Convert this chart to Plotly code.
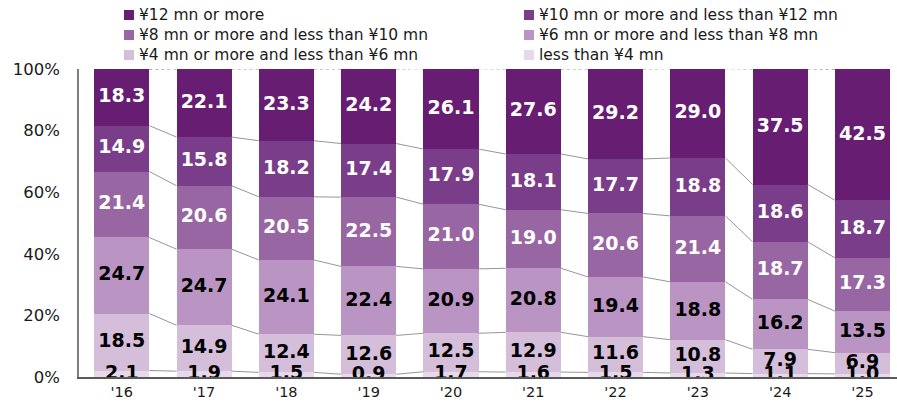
import plotly.graph_objects as go

years = ["'16", "'17", "'18", "'19", "'20", "'21", "'22", "'23", "'24", "'25"]

# Income bands, bottom of the stack first
band_names = [
    "less than ¥4 mn",
    "¥4 mn or more and less than ¥6 mn",
    "¥6 mn or more and less than ¥8 mn",
    "¥8 mn or more and less than ¥10 mn",
    "¥10 mn or more and less than ¥12 mn",
    "¥12 mn or more",
]
under_4 = [2.1, 1.9, 1.5, 0.9, 1.7, 1.6, 1.5, 1.3, 1.1, 1.0]
from_4_to_6 = [18.5, 14.9, 12.4, 12.6, 12.5, 12.9, 11.6, 10.8, 7.9, 6.9]
from_6_to_8 = [24.7, 24.7, 24.1, 22.4, 20.9, 20.8, 19.4, 18.8, 16.2, 13.5]
from_8_to_10 = [21.4, 20.6, 20.5, 22.5, 21.0, 19.0, 20.6, 21.4, 18.7, 17.3]
from_10_to_12 = [14.9, 15.8, 18.2, 17.4, 17.9, 18.1, 17.7, 18.8, 18.6, 18.7]
over_12 = [18.3, 22.1, 23.3, 24.2, 26.1, 27.6, 29.2, 29.0, 37.5, 42.5]

series = [under_4, from_4_to_6, from_6_to_8, from_8_to_10, from_10_to_12, over_12]
colors = ["#E6DAEA", "#D4BEDA", "#BA95C3", "#9866A3", "#7A3D8A", "#661D72"]
text_colors = ["#000000", "#000000", "#000000", "#FFFFFF", "#FFFFFF", "#FFFFFF"]

x = list(range(len(years)))
bar_width = 0.67
VALUE_FONT = "DejaVu Sans"

fig = go.Figure()

# Stacked bars
for name, vals, col in zip(band_names, series, colors):
    fig.add_trace(go.Bar(
        x=x, y=vals, name=name, width=bar_width,
        marker=dict(color=col, line=dict(width=0)),
        showlegend=False, hoverinfo="skip",
    ))

# Cumulative boundaries for connector lines and label positions
cum = [[0.0] * len(years)]
for vals in series:
    cum.append([c + v for c, v in zip(cum[-1], vals)])

# Connector lines between neighbouring bars at each band boundary
for level in range(1, len(cum)):
    lx, ly = [], []
    for i in range(len(years) - 1):
        lx += [i + bar_width / 2, i + 1 - bar_width / 2, None]
        ly += [cum[level][i], cum[level][i + 1], None]
    fig.add_trace(go.Scatter(
        x=lx, y=ly, mode="lines",
        line=dict(color="#8a8a8a", width=0.9,
                  dash="dot" if level == len(cum) - 1 else "solid"),
        showlegend=False, hoverinfo="skip",
    ))

# Value labels centred in each segment
for k, vals in enumerate(series):
    mids = [cum[k][i] + vals[i] / 2 for i in range(len(years))]
    fig.add_trace(go.Scatter(
        x=x, y=mids, mode="text",
        text=[f"{v:.1f}" for v in vals],
        textposition="middle center",
        textfont=dict(family=VALUE_FONT, size=19, color=text_colors[k],
                      weight="bold"),
        showlegend=False, hoverinfo="skip",
    ))

# Plot-area geometry (pixels) used to place the legend
W, H = 897, 403
L, R, T, B = 79, 0, 69, 26
pw, ph = W - L - R, H - T - B


def px_x(p):
    return (p - L) / pw


def px_y(p):
    return (H - B - p) / ph


legend_layout = [
    (band_names[5], colors[5], 124, 15),
    (band_names[4], colors[4], 524, 15),
    (band_names[3], colors[3], 124, 35),
    (band_names[2], colors[2], 524, 35),
    (band_names[1], colors[1], 124, 55),
    (band_names[0], colors[0], 524, 55),
]
shapes = []
annotations = []
for name, col, sx, sy in legend_layout:
    shapes.append(dict(
        type="rect", xref="paper", yref="paper",
        x0=px_x(sx), x1=px_x(sx + 10), y0=px_y(sy + 5), y1=px_y(sy - 5),
        fillcolor=col, line=dict(width=0),
    ))
    annotations.append(dict(
        xref="paper", yref="paper", x=px_x(sx + 13), y=px_y(sy),
        xanchor="left", yanchor="middle", showarrow=False,
        text=name, font=dict(family="DejaVu Sans", size=15.5, color="#1a1a1a"),
    ))

fig.update_layout(
    width=W, height=H,
    margin=dict(l=L, r=R, t=T, b=B, pad=0),
    barmode="stack",
    plot_bgcolor="white", paper_bgcolor="white",
    shapes=shapes, annotations=annotations,
    xaxis=dict(
        range=[-0.52, 9.42], tickmode="array", tickvals=x, ticktext=years,
        showline=True, linecolor="#595959", linewidth=2,
        showgrid=False, zeroline=False, ticks="",
        automargin=False, ticklabelstandoff=1,
        tickfont=dict(family="DejaVu Sans", size=14.5, color="#1a1a1a"),
    ),
    yaxis=dict(
        range=[0, 100], tickvals=[0, 20, 40, 60, 80, 100],
        ticktext=["0%", "20%", "40%", "60%", "80%", "100%"],
        showline=True, linecolor="#7f7f7f", linewidth=1.5,
        showgrid=False, zeroline=False, ticks="",
        automargin=False, ticklabelstandoff=14,
        tickfont=dict(family="DejaVu Sans", size=16.5, color="#1a1a1a"),
    ),
)

fig.write_html("out.html")
